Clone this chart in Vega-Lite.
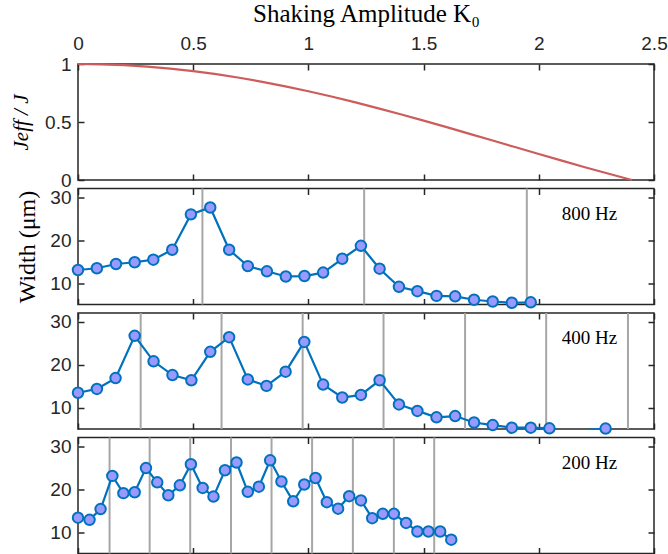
{
  "$schema": "https://vega.github.io/schema/vega-lite/v6.json",
  "padding": {"left": 9, "top": 0, "right": 0, "bottom": 0},
  "background": "white",
  "bounds": "flush",
  "spacing": 8.5,
  "config": {
    "view": {"stroke": "#262626", "strokeWidth": 1.5},
    "axis": {
      "domain": false, "grid": false, "tickColor": "#262626", "tickWidth": 1.5, "tickSize": -6,
      "labelFont": "Liberation Sans", "labelFontSize": 19, "labelColor": "#262626",
      "labelFlush": false, "labelOverlap": false,
      "titleFont": "Liberation Serif", "titleFontSize": 24, "titleFontWeight": "normal", "titleColor": "#000000"
    },
    "style": {"guide-title": {"font": "Liberation Serif", "fontWeight": "normal"}}
  },
  "datasets": {
    "bessel": [
      {"k": 0, "j": 1}, {"k": 0.1, "j": 0.9975}, {"k": 0.2, "j": 0.99}, {"k": 0.3, "j": 0.9776},
      {"k": 0.4, "j": 0.9604}, {"k": 0.5, "j": 0.9385}, {"k": 0.6, "j": 0.912}, {"k": 0.7, "j": 0.8812},
      {"k": 0.8, "j": 0.8463}, {"k": 0.9, "j": 0.8075}, {"k": 1.0, "j": 0.7652}, {"k": 1.1, "j": 0.7196},
      {"k": 1.2, "j": 0.6711}, {"k": 1.3, "j": 0.6201}, {"k": 1.4, "j": 0.5669}, {"k": 1.5, "j": 0.5118},
      {"k": 1.6, "j": 0.4554}, {"k": 1.7, "j": 0.398}, {"k": 1.8, "j": 0.34}, {"k": 1.9, "j": 0.2818},
      {"k": 2.0, "j": 0.2239}, {"k": 2.1, "j": 0.1666}, {"k": 2.2, "j": 0.1104}, {"k": 2.3, "j": 0.0555},
      {"k": 2.4, "j": 0.0025}, {"k": 2.405, "j": 0}
    ],
    "w800": [
      {"k": 0, "w": 13.1}, {"k": 0.082, "w": 13.5}, {"k": 0.165, "w": 14.5}, {"k": 0.246, "w": 14.9},
      {"k": 0.327, "w": 15.5}, {"k": 0.409, "w": 17.8}, {"k": 0.49, "w": 26.0}, {"k": 0.574, "w": 27.6},
      {"k": 0.656, "w": 17.8}, {"k": 0.737, "w": 14.0}, {"k": 0.82, "w": 12.8}, {"k": 0.902, "w": 11.6},
      {"k": 0.983, "w": 11.7}, {"k": 1.064, "w": 12.5}, {"k": 1.147, "w": 15.7}, {"k": 1.228, "w": 18.7},
      {"k": 1.309, "w": 13.4}, {"k": 1.393, "w": 9.2}, {"k": 1.473, "w": 8.2}, {"k": 1.556, "w": 7.1},
      {"k": 1.637, "w": 7.0}, {"k": 1.719, "w": 6.2}, {"k": 1.8, "w": 5.8}, {"k": 1.883, "w": 5.5},
      {"k": 1.965, "w": 5.6}
    ],
    "w400": [
      {"k": 0, "w": 13.5}, {"k": 0.082, "w": 14.4}, {"k": 0.163, "w": 16.9}, {"k": 0.246, "w": 26.7},
      {"k": 0.328, "w": 20.8}, {"k": 0.41, "w": 17.6}, {"k": 0.492, "w": 16.4}, {"k": 0.574, "w": 23.0},
      {"k": 0.656, "w": 26.4}, {"k": 0.737, "w": 16.6}, {"k": 0.818, "w": 15.1}, {"k": 0.901, "w": 18.4},
      {"k": 0.982, "w": 25.3}, {"k": 1.064, "w": 15.4}, {"k": 1.147, "w": 12.4}, {"k": 1.228, "w": 13.0},
      {"k": 1.309, "w": 16.4}, {"k": 1.393, "w": 10.8}, {"k": 1.473, "w": 9.3}, {"k": 1.556, "w": 7.8},
      {"k": 1.637, "w": 8.1}, {"k": 1.719, "w": 6.6}, {"k": 1.8, "w": 6.0}, {"k": 1.883, "w": 5.4},
      {"k": 1.965, "w": 5.4}, {"k": 2.046, "w": 5.25}, {"k": 2.128, "w": 4.4}, {"k": 2.21, "w": 4.9},
      {"k": 2.29, "w": 5.2}
    ],
    "w200": [
      {"k": 0, "w": 13.4}, {"k": 0.05, "w": 12.9}, {"k": 0.098, "w": 15.4}, {"k": 0.149, "w": 23.1},
      {"k": 0.197, "w": 19.1}, {"k": 0.246, "w": 19.3}, {"k": 0.295, "w": 24.9}, {"k": 0.344, "w": 21.6},
      {"k": 0.392, "w": 18.6}, {"k": 0.442, "w": 20.9}, {"k": 0.49, "w": 25.8}, {"k": 0.541, "w": 20.3},
      {"k": 0.588, "w": 18.3}, {"k": 0.638, "w": 24.4}, {"k": 0.688, "w": 26.2}, {"k": 0.737, "w": 19.4},
      {"k": 0.785, "w": 20.6}, {"k": 0.834, "w": 26.7}, {"k": 0.883, "w": 21.8}, {"k": 0.934, "w": 17.2},
      {"k": 0.982, "w": 21.1}, {"k": 1.031, "w": 22.6}, {"k": 1.08, "w": 17.0}, {"k": 1.129, "w": 15.5},
      {"k": 1.177, "w": 18.4}, {"k": 1.228, "w": 17.4}, {"k": 1.277, "w": 13.3}, {"k": 1.323, "w": 14.3},
      {"k": 1.371, "w": 14.3}, {"k": 1.424, "w": 12.2}, {"k": 1.473, "w": 10.2}, {"k": 1.521, "w": 10.2},
      {"k": 1.572, "w": 10.2}, {"k": 1.62, "w": 8.3}
    ],
    "r800": [{"k": 0.54}, {"k": 1.242}, {"k": 1.948}],
    "r400": [{"k": 0.272}, {"k": 0.623}, {"k": 0.975}, {"k": 1.326}, {"k": 1.68}, {"k": 2.032}, {"k": 2.387}],
    "r200": [{"k": 0.137}, {"k": 0.311}, {"k": 0.487}, {"k": 0.664}, {"k": 0.84}, {"k": 1.016}, {"k": 1.193}, {"k": 1.371}, {"k": 1.546}],
    "l800": [{"k": 2.22, "w": 26.1, "t": "800 Hz"}],
    "l400": [{"k": 2.22, "w": 26.1, "t": "400 Hz"}],
    "l200": [{"k": 2.22, "w": 26.1, "t": "200 Hz"}]
  },
  "vconcat": [
    {
      "width": 576, "height": 116,
      "data": {"name": "bessel"},
      "layer": [
        {
          "mark": {"type": "line", "color": "#CD5C5C", "strokeWidth": 2.2},
          "encoding": {
            "x": {"field": "k", "type": "quantitative", "scale": {"domain": [0, 2.5], "nice": false},
                  "axis": {"orient": "bottom", "values": [0, 0.5, 1, 1.5, 2, 2.5], "labels": false, "title": null}},
            "y": {"field": "j", "type": "quantitative", "scale": {"domain": [0, 1], "nice": false},
                  "axis": {"orient": "left", "values": [0, 0.5, 1], "format": "~g", "labelPadding": 13, "title": "Jeff / J", "titleFont": "Liberation Serif", "titleFontSize": 21, "titleFontStyle": "italic", "titleFontWeight": "normal", "titlePadding": 13}}
          }
        },
        {
          "mark": {"type": "point", "opacity": 0},
          "encoding": {
            "x": {"field": "k", "type": "quantitative", "scale": {"domain": [0, 2.5], "nice": false},
                  "axis": {"orient": "top", "values": [0, 0.5, 1, 1.5, 2, 2.5], "format": "~g", "labelPadding": 17, "title": "Shaking Amplitude K₀", "titleFont": "Liberation Serif", "titleFontSize": 25, "titleFontWeight": "normal", "titlePadding": 8}},
            "y": {"field": "j", "type": "quantitative", "scale": {"domain": [0, 1], "nice": false},
                  "axis": {"orient": "right", "values": [0, 0.5, 1], "labels": false, "title": null}}
          }
        }
      ],
      "resolve": {"axis": {"x": "independent", "y": "independent"}}
    },
    {
      "width": 576, "height": 116,
      "layer": [
        {
          "data": {"name": "r800"},
          "mark": {"type": "rule", "color": "#A6A6A6", "strokeWidth": 2},
          "encoding": {"x": {"field": "k", "type": "quantitative", "scale": {"domain": [0, 2.5], "nice": false}, "axis": null}}
        },
        {
          "data": {"name": "w800"},
          "mark": {"type": "line", "color": "#0072BD", "strokeWidth": 2.2, "clip": true},
          "encoding": {
            "x": {"field": "k", "type": "quantitative", "scale": {"domain": [0, 2.5], "nice": false},
                  "axis": {"orient": "bottom", "values": [0, 0.5, 1, 1.5, 2, 2.5], "labels": false, "title": null}},
            "y": {"field": "w", "type": "quantitative", "scale": {"domain": [5.1, 32], "nice": false, "zero": false},
                  "axis": {"orient": "left", "values": [10, 20, 30], "labelPadding": 13, "title": "Width (μm)", "titleFont": "Liberation Serif", "titleFontSize": 24, "titleFontWeight": "normal", "titlePadding": 10}}
          }
        },
        {
          "data": {"name": "w800"},
          "mark": {"type": "circle", "fill": "#9999FF", "stroke": "#0072BD", "strokeWidth": 2, "size": 110, "opacity": 1},
          "encoding": {
            "x": {"field": "k", "type": "quantitative", "scale": {"domain": [0, 2.5], "nice": false},
                  "axis": {"orient": "top", "values": [0, 0.5, 1, 1.5, 2, 2.5], "labels": false, "title": null}},
            "y": {"field": "w", "type": "quantitative", "scale": {"domain": [5.1, 32], "nice": false, "zero": false},
                  "axis": {"orient": "right", "values": [10, 20, 30], "labels": false, "title": null}}
          }
        },
        {
          "data": {"name": "l800"},
          "mark": {"type": "text", "font": "Liberation Serif", "fontSize": 19, "color": "#000000"},
          "encoding": {
            "x": {"field": "k", "type": "quantitative", "axis": null},
            "y": {"field": "w", "type": "quantitative", "axis": null},
            "text": {"field": "t"}
          }
        }
      ],
      "resolve": {"axis": {"x": "independent", "y": "independent"}}
    },
    {
      "width": 576, "height": 116,
      "layer": [
        {
          "data": {"name": "r400"},
          "mark": {"type": "rule", "color": "#A6A6A6", "strokeWidth": 2},
          "encoding": {"x": {"field": "k", "type": "quantitative", "scale": {"domain": [0, 2.5], "nice": false}, "axis": null}}
        },
        {
          "data": {"name": "w400"},
          "mark": {"type": "line", "color": "#0072BD", "strokeWidth": 2.2, "clip": true},
          "encoding": {
            "x": {"field": "k", "type": "quantitative", "scale": {"domain": [0, 2.5], "nice": false},
                  "axis": {"orient": "bottom", "values": [0, 0.5, 1, 1.5, 2, 2.5], "labels": false, "title": null}},
            "y": {"field": "w", "type": "quantitative", "scale": {"domain": [5.1, 32], "nice": false, "zero": false},
                  "axis": {"orient": "left", "values": [10, 20, 30], "labelPadding": 13, "title": null}}
          }
        },
        {
          "data": {"name": "w400"},
          "transform": [{"filter": "datum.w >= 5.1"}],
          "mark": {"type": "circle", "fill": "#9999FF", "stroke": "#0072BD", "strokeWidth": 2, "size": 110, "opacity": 1},
          "encoding": {
            "x": {"field": "k", "type": "quantitative", "scale": {"domain": [0, 2.5], "nice": false},
                  "axis": {"orient": "top", "values": [0, 0.5, 1, 1.5, 2, 2.5], "labels": false, "title": null}},
            "y": {"field": "w", "type": "quantitative", "scale": {"domain": [5.1, 32], "nice": false, "zero": false},
                  "axis": {"orient": "right", "values": [10, 20, 30], "labels": false, "title": null}}
          }
        },
        {
          "data": {"name": "l400"},
          "mark": {"type": "text", "font": "Liberation Serif", "fontSize": 19, "color": "#000000"},
          "encoding": {
            "x": {"field": "k", "type": "quantitative", "axis": null},
            "y": {"field": "w", "type": "quantitative", "axis": null},
            "text": {"field": "t"}
          }
        }
      ],
      "resolve": {"axis": {"x": "independent", "y": "independent"}}
    },
    {
      "width": 576, "height": 116,
      "layer": [
        {
          "data": {"name": "r200"},
          "mark": {"type": "rule", "color": "#A6A6A6", "strokeWidth": 2},
          "encoding": {"x": {"field": "k", "type": "quantitative", "scale": {"domain": [0, 2.5], "nice": false}, "axis": null}}
        },
        {
          "data": {"name": "w200"},
          "mark": {"type": "line", "color": "#0072BD", "strokeWidth": 2.2, "clip": true},
          "encoding": {
            "x": {"field": "k", "type": "quantitative", "scale": {"domain": [0, 2.5], "nice": false},
                  "axis": {"orient": "bottom", "values": [0, 0.5, 1, 1.5, 2, 2.5], "labels": false, "title": null}},
            "y": {"field": "w", "type": "quantitative", "scale": {"domain": [5.1, 32], "nice": false, "zero": false},
                  "axis": {"orient": "left", "values": [10, 20, 30], "labelPadding": 13, "title": null}}
          }
        },
        {
          "data": {"name": "w200"},
          "mark": {"type": "circle", "fill": "#9999FF", "stroke": "#0072BD", "strokeWidth": 2, "size": 110, "opacity": 1},
          "encoding": {
            "x": {"field": "k", "type": "quantitative", "scale": {"domain": [0, 2.5], "nice": false},
                  "axis": {"orient": "top", "values": [0, 0.5, 1, 1.5, 2, 2.5], "labels": false, "title": null}},
            "y": {"field": "w", "type": "quantitative", "scale": {"domain": [5.1, 32], "nice": false, "zero": false},
                  "axis": {"orient": "right", "values": [10, 20, 30], "labels": false, "title": null}}
          }
        },
        {
          "data": {"name": "l200"},
          "mark": {"type": "text", "font": "Liberation Serif", "fontSize": 19, "color": "#000000"},
          "encoding": {
            "x": {"field": "k", "type": "quantitative", "axis": null},
            "y": {"field": "w", "type": "quantitative", "axis": null},
            "text": {"field": "t"}
          }
        }
      ],
      "resolve": {"axis": {"x": "independent", "y": "independent"}}
    }
  ]
}
